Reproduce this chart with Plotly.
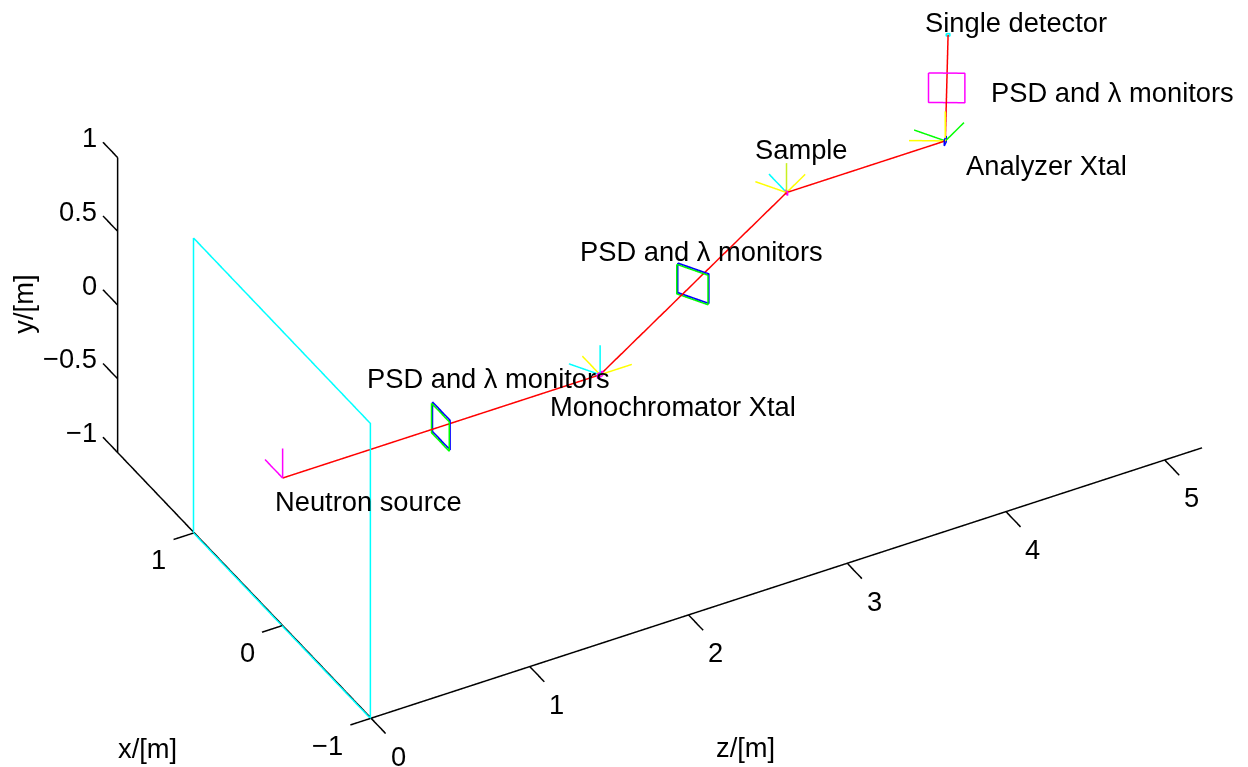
import numpy as np
import plotly.graph_objects as go

# Instrument geometry in metres
pos_x = [0.0, 0.0, 1.0, 1.0, 1.866]
pos_y = [0.0, 0.0, 0.0, 0.0, 0.0]
pos_z = [0.0, 2.0, 3.732, 4.732, 5.232]

x_ticks = [-1, 0, 1]
y_ticks = [-1, -0.5, 0, 0.5, 1]
z_ticks = [0, 1, 2, 3, 4, 5]
x_tick_text = ["\u22121", "0", "1"]
y_tick_text = ["\u22121", "\u22120.5", "0", "0.5", "1"]
z_tick_text = ["0", "1", "2", "3", "4", "5"]
x_lim = [-1, 1.866]
y_lim = [-1, 1]
z_lim = [0, 5.235]

x_range = [-1.2, 2.05]
y_range = [-1.1, 1.1]
z_range = [-0.15, 5.3]

FONT = dict(family="Liberation Sans", size=27.3, color="black")
SEG = {}
def add(color, pts):
    SEG.setdefault(color, [])
    SEG[color] += list(pts) + [(None, None, None)]

def local(p, ang, dx, dy, dz):
    a = np.radians(ang)
    return (p[0] + dx*np.cos(a) + dz*np.sin(a), p[1] + dy, p[2] - dx*np.sin(a) + dz*np.cos(a))

def rect(p, ang, hw, hh):
    return [local(p, ang, s*hw, t*hh, 0) for s, t in [(1,1),(-1,1),(-1,-1),(1,-1),(1,1)]]

def crystal(p, ang, hw, hh):
    return [local(p, ang, 0, t*hh, s*hw) for s, t in [(1,1),(-1,1),(-1,-1),(1,-1),(1,1)]]

def arm(p, ang, color, axes="xyz", L=0.2):
    for ax in axes:
        d = dict(x=(L,0,0), y=(0,L,0), z=(0,0,L))[ax]
        add(color, [p, local(p, ang, *d)])

P = list(zip(pos_x, pos_y, pos_z))
mon1 = (0.0, 0.0, 1.0)
mon2 = ((P[1][0]+P[2][0])/2, 0.0, (P[1][2]+P[2][2])/2)
mon3 = ((P[3][0]+P[4][0])/2, 0.0, (P[3][2]+P[4][2])/2)

# Axis box edges and ticks
TX, TZ = 0.165, 0.13
add("#000000", [(x_lim[1], y_lim[1], 0), (x_lim[1], y_lim[0], 0), (x_lim[0], y_lim[0], 0), (x_lim[0], y_lim[0], z_lim[1])])
for v in x_ticks:
    add("#000000", [(v, -1, 0), (v, -1, -TZ)])
for v in y_ticks:
    add("#000000", [(x_lim[1], v, 0), (x_lim[1]+TX, v, 0)])
for v in z_ticks:
    add("#000000", [(-1, -1, v), (-1-TX, -1, v)])

add("#00ffff", [(1,1,-0.004),(-1,1,-0.004),(-1,-1,-0.004),(1,-1,-0.004),(1,1,-0.004)])
arm(P[0], 0, "#ff00ff", "xy")
add("#0000ff", rect((0,0.003,1.0), 0, 0.1, 0.1))
add("#00ff00", rect((0,-0.004,0.994), 0, 0.1, 0.1))
add("#0000ff", rect((mon2[0], 0.003, mon2[2]), 30, 0.1, 0.1))
add("#00ff00", rect((mon2[0], -0.004, mon2[2]-0.006), 30, 0.1, 0.1))
arm(P[1], 0, "#ffff00", "xz")
arm(P[1], 30, "#00ffff", "xy")
arm(P[2], 30, "#c8f020", "y")
arm(P[2], 30, "#ffff00", "xz")
arm(P[2], 0, "#00ffff", "x")
arm(P[3], 30, "#00ff00", "xz")
arm(P[3], 60, "#ffff00", "xy")
add("#ff00ff", crystal(P[1], 15, 0.02, 0.015))
add("#ff00ff", rect(P[2], 0, 0.012, 0.012))
add("#0000ff", crystal(P[3], 45, 0.02, 0.02))
add("#00ffff", rect(P[4], 60, 0.01, 0.008))
add("#ff00ff", rect(mon3, 60, 0.1, 0.1))
add("#ff0000", P)

fig = go.Figure()
for color, pts in SEG.items():
    fig.add_trace(go.Scatter3d(
        x=[p[2] for p in pts], y=[p[0] for p in pts], z=[p[1] for p in pts],
        mode="lines", line=dict(color=color, width=3), hoverinfo="skip", showlegend=False, connectgaps=False))

def note(x, y, z, text, dx, dy, anchor="center", angle=0):
    return dict(x=z, y=x, z=y, text=text, showarrow=False, xshift=dx, yshift=dy, xanchor=anchor, yanchor="middle",
                textangle=angle, font=FONT)

notes = [
    note(*P[4], "Single detector", 68, 12),
    note(*mon3, "PSD and \u03bb monitors", 166, -5),
    note(*P[3], "Analyzer Xtal", 101, -25),
    note(*P[2], "Sample", 15, 43),
    note(*mon2, "PSD and \u03bb monitors", 8, 32),
    note(*mon1, "PSD and \u03bb monitors", 47, 48),
    note(*P[1], "Monochromator Xtal", 73, -32),
    note(*P[0], "Neutron source", 86, -23),
]
for v, t in zip(x_ticks, x_tick_text):
    notes.append(note(v, -1, 0, t, -26, -27, "right"))
for v, t in zip(y_ticks, y_tick_text):
    notes.append(note(x_lim[1], v, 0, t, -19, 20, "right"))
for v, t in zip(z_ticks, z_tick_text):
    notes.append(note(-1, -1, v, t, 27, -38))
notes.append(note(0.43, -1, 0, "x/[m]", -97, -163))
notes.append(note(-1, -1, 2.61, "z/[m]", -40, -164))
notes.append(note(x_lim[1], 0, 0, "y/[m]", -95, 1, angle=-90))

def axis(rng):
    return dict(range=rng, autorange=False, visible=False, showspikes=False)

k = 2.1106
aspect = dict(x=(z_range[1]-z_range[0])/k, y=(x_range[1]-x_range[0])/k, z=(y_range[1]-y_range[0])/k)
eye_dir = np.array([-0.395, -0.709, 0.584]); eye_dir /= np.linalg.norm(eye_dir)
right = np.array([0.873, -0.486, 0.0]); up = np.array([0.284, 0.510, 0.8116])
Sn = 383.5
cen = (-21.8/Sn)*right + (-85.9/Sn)*up
dist = 3.0
eye = cen + eye_dir*dist

fig.update_layout(
    width=1248, height=767, margin=dict(l=0, r=0, t=0, b=0), paper_bgcolor="white",
    scene=dict(
        domain=dict(x=[0, 1], y=[0, 1]),
        xaxis=axis(z_range), yaxis=axis(x_range), zaxis=axis(y_range),
        aspectmode="manual", aspectratio=aspect,
        camera=dict(projection=dict(type="orthographic"), up=dict(x=0, y=0, z=1),
                    center=dict(x=cen[0], y=cen[1], z=cen[2]), eye=dict(x=eye[0], y=eye[1], z=eye[2])),
        annotations=notes,
    ),
)
fig.write_html("out.html")
